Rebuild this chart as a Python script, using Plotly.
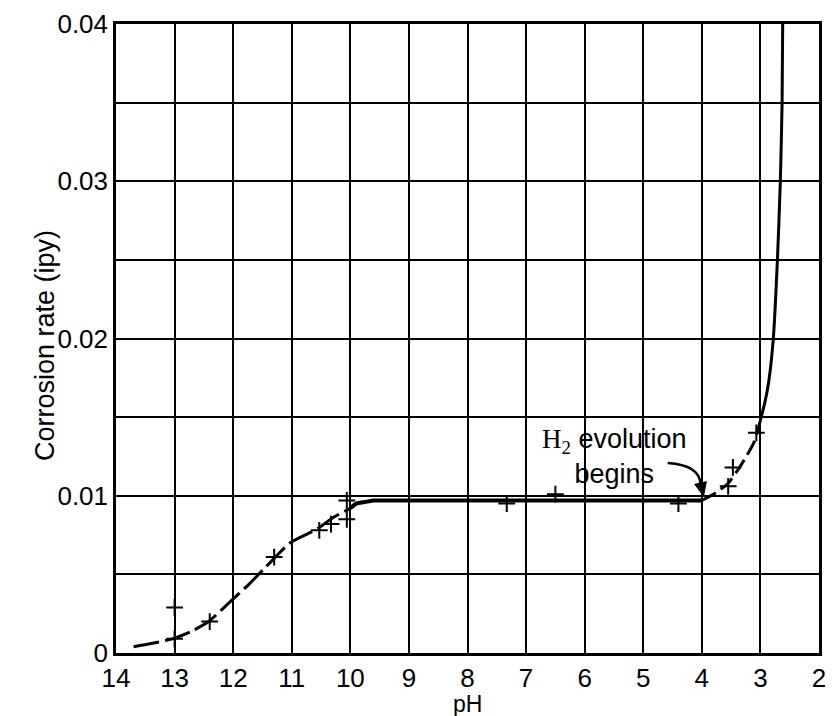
import plotly.graph_objects as go

# ---- data ----
low_ph = [13.7, 13.4, 13.04, 12.7, 12.42, 12.04, 11.75, 11.46, 11.03, 10.56, 10.3, 10.0]
low_rate = [0.0004, 0.0006, 0.0009, 0.0014, 0.0020, 0.0033, 0.0043, 0.0054, 0.0070, 0.0079, 0.0086, 0.0092]

plateau_ph = [10.0, 9.9, 9.75, 9.6, 9.4, 8.0, 6.0, 4.0]
plateau_rate = [0.0092, 0.0095, 0.0096, 0.0097, 0.0097, 0.0097, 0.0097, 0.0097]

rise_ph = [4.0, 3.76, 3.55, 3.34, 3.11, 3.0]
rise_rate = [0.0097, 0.0102, 0.0108, 0.0119, 0.0134, 0.0148]

steep_ph = [3.0, 2.92, 2.86, 2.78, 2.71, 2.66, 2.63, 2.62]
steep_rate = [0.0148, 0.0160, 0.0172, 0.0200, 0.0250, 0.0300, 0.0350, 0.0400]

pts_ph = [13.0, 13.0, 12.4, 11.3, 10.53, 10.33, 10.06, 10.06, 7.33, 6.5, 4.4, 3.55, 3.47, 3.07]
pts_rate = [0.0029, 0.0009, 0.0020, 0.0061, 0.0078, 0.0082, 0.0085, 0.0097, 0.0095, 0.0101, 0.0095, 0.0106, 0.0118, 0.0140]

x_ticks = list(range(14, 1, -1))
y_ticks = [0, 0.01, 0.02, 0.03, 0.04]
y_labels = ["0", "0.01", "0.02", "0.03", "0.04"]

FONT = "Liberation Sans, Arial, sans-serif"

fig = go.Figure()
line_kw = dict(mode="lines", showlegend=False, hoverinfo="skip")
fig.add_trace(go.Scatter(x=low_ph, y=low_rate, line=dict(color="black", width=3, dash="26px,6px", shape="spline", smoothing=0.6), **line_kw))
fig.add_trace(go.Scatter(x=plateau_ph, y=plateau_rate, line=dict(color="black", width=4, shape="spline", smoothing=0.5), **line_kw))
fig.add_trace(go.Scatter(x=rise_ph, y=rise_rate, line=dict(color="black", width=3, dash="16px,6px", shape="spline", smoothing=0.6), **line_kw))
fig.add_trace(go.Scatter(x=steep_ph, y=steep_rate, line=dict(color="black", width=3, shape="spline", smoothing=0.6), **line_kw))
fig.add_trace(go.Scatter(x=pts_ph, y=pts_rate, mode="markers", showlegend=False,
                         marker=dict(symbol="cross-thin", size=12, line=dict(color="black", width=2))))

# curved arrow for the "H2 evolution begins" note
fig.add_shape(type="path", xref="x", yref="y",
              path="M 4.583,0.012083 Q 4.039,0.011955 4.022,0.010747",
              line=dict(color="black", width=2.5))
fig.add_shape(type="path", xref="x", yref="y",
              path="M 3.971,0.009984 L 4.121,0.010728 L 3.924,0.010893 Z",
              line=dict(color="black", width=1), fillcolor="black")
fig.add_annotation(x=5.49, y=0.01252, xref="x", yref="y", showarrow=False,
                   text="<span style='font-family:Liberation Serif'>H<sub>2</sub></span> evolution<br>begins",
                   font=dict(family=FONT, size=27, color="black"), align="center")

# axis titles
fig.add_annotation(xref="paper", yref="paper", x=0, y=0.488, xshift=-88, textangle=-90,
                   text="Corrosion rate (ipy)", showarrow=False,
                   font=dict(family=FONT, size=27, color="black"))
fig.add_annotation(xref="x", yref="paper", x=8.0, y=0, yshift=-51, yanchor="middle",
                   text="pH", showarrow=False,
                   font=dict(family=FONT, size=23, color="black"))

axis_common = dict(showgrid=True, gridcolor="black", gridwidth=1.5, showline=True, linecolor="black",
                   linewidth=2.5, mirror=True, zeroline=False, ticks="",
                   tickfont=dict(family=FONT, size=26, color="black"))
fig.update_xaxes(range=[14, 2], tickvals=x_ticks, ticktext=[str(v) for v in x_ticks], **axis_common)
fig.update_yaxes(range=[0, 0.04], tickvals=y_ticks, ticktext=y_labels,
                 minor=dict(tick0=0, dtick=0.005, showgrid=True, gridcolor="black", gridwidth=1.5, ticks=""),
                 **axis_common)

fig.update_layout(width=835, height=716, margin=dict(l=116, r=9, t=24, b=63),
                  plot_bgcolor="white", paper_bgcolor="white", showlegend=False)

fig.write_html("out.html", config={"displayModeBar": False},
               post_script="document.body.style.margin='0';document.body.style.overflow='hidden';")
